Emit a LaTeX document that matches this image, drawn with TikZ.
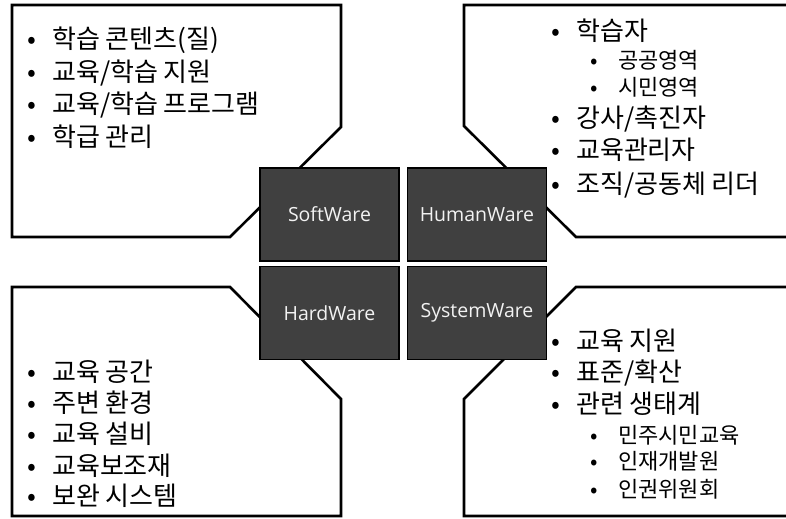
\documentclass[tikz,border=0pt]{standalone}
\usepackage{fontspec}
\setmainfont{Noto Sans CJK KR}
\newfontfamily\latinlabel{Open Sans}
\definecolor{boxgray}{HTML}{404040}
\definecolor{labelgray}{HTML}{F2F2F2}
\newcommand\bmain{\makebox[40bp][c]{•}}
\newcommand\bsub{\makebox[48bp][c]{•}}
\begin{document}
\begin{tikzpicture}[x=1bp,y=-1bp,
  callout/.style={draw=black,line width=2.6bp,fill=white,line join=miter},
  warebox/.style={draw=black,line width=1.3bp,fill=boxgray,minimum width=139bp,
    minimum height=93bp,inner sep=0pt,text=labelgray,
    font=\latinlabel\fontsize{19.5bp}{22bp}\selectfont},
  item/.style={anchor=west,inner sep=0pt,text height=18.5bp,text depth=0bp,
    font=\fontsize{26bp}{30bp}\selectfont},
  subitem/.style={anchor=west,inner sep=0pt,text height=15.5bp,text depth=0bp,
    font=\fontsize{22bp}{26bp}\selectfont}]
\useasboundingbox (0,0) rectangle (786,519);
\clip (0,0) rectangle (786,519);
% callouts
\draw[callout] (12,5) -- (341,5) -- (341,127) -- (230,237) -- (12,237) -- cycle;
\draw[callout] (464,5) -- (800,5) -- (800,237) -- (576,237) -- (464,126) -- cycle;
\draw[callout] (12,287) -- (230,287) -- (341,399) -- (341,516) -- (12,516) -- cycle;
\draw[callout] (576,287) -- (800,287) -- (800,516) -- (464,516) -- (464,399) -- cycle;
% central boxes
\node[warebox] (sw) at (329.5,214.5) {SoftWare};
\node[warebox] (hw) at (477,214.5) {HumanWare};
\node[warebox] (hd) at (329.5,313) {HardWare};
\node[warebox] (sy) at (477,313) {SystemWare};
% top-left
\node[item] (tl1) at (12,39.5) {\bmain 학습 콘텐츠(질)};
\node[item] (tl2) at (12,72) {\bmain 교육/학습 지원};
\node[item] (tl3) at (12,104.5) {\bmain 교육/학습 프로그램};
\node[item] (tl4) at (12,137) {\bmain 학급 관리};
% top-right
\node[item] (tr1) at (536,31) {\bmain 학습자};
\node[subitem] (tr2) at (570,61) {\bsub 공공영역};
\node[subitem] (tr3) at (570,88) {\bsub 시민영역};
\node[item] (tr4) at (536,118) {\bmain 강사/촉진자};
\node[item] (tr5) at (536,150) {\bmain 교육관리자};
\node[item] (tr6) at (536,184) {\bmain 조직/공동체 리더};
% bottom-left
\node[item] (bl1) at (12,372) {\bmain 교육 공간};
\node[item] (bl2) at (12,403) {\bmain 주변 환경};
\node[item] (bl3) at (12,434) {\bmain 교육 설비};
\node[item] (bl4) at (12,466) {\bmain 교육보조재};
\node[item] (bl5) at (12,496) {\bmain 보완 시스템};
% bottom-right
\node[item] (br1) at (536,341) {\bmain 교육 지원};
\node[item] (br2) at (536,372) {\bmain 표준/확산};
\node[item] (br3) at (536,404) {\bmain 관련 생태계};
\node[subitem] (br4) at (570,436) {\bsub 민주시민교육};
\node[subitem] (br5) at (570,462) {\bsub 인재개발원};
\node[subitem] (br6) at (570,490) {\bsub 인권위원회};
\end{tikzpicture}
\end{document}
